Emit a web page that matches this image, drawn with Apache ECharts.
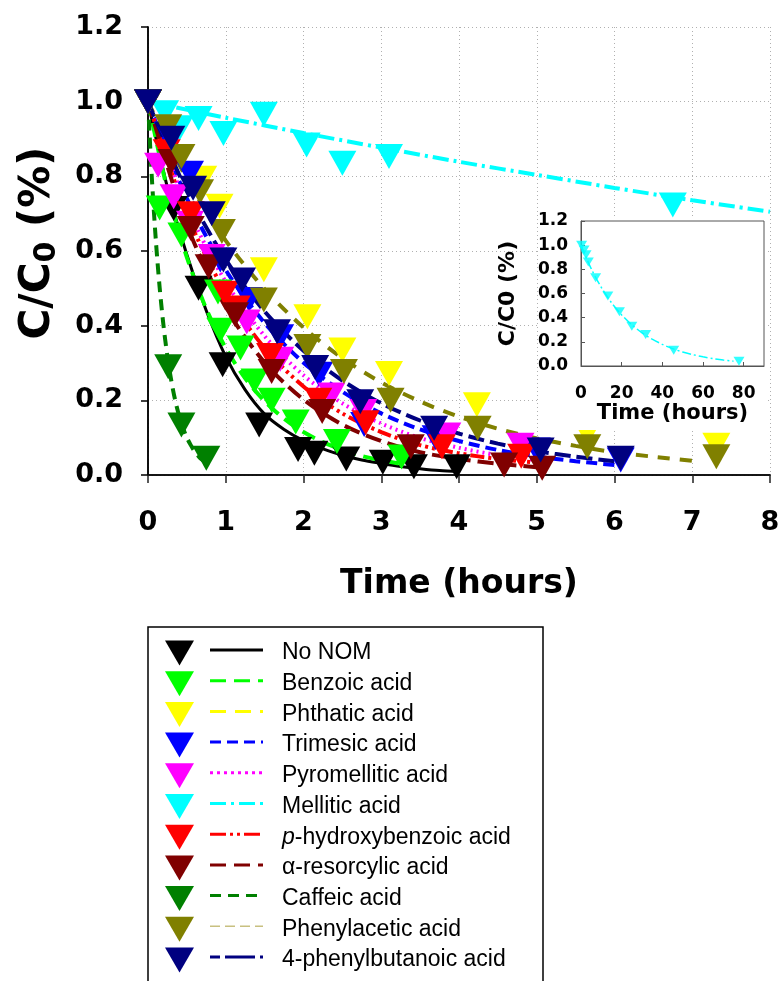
<!DOCTYPE html>
<html><head><meta charset="utf-8">
<script src="https://cdn.jsdelivr.net/npm/echarts@6/dist/echarts.min.js"></script>
<style>html,body{margin:0;padding:0;background:#fff}#c{width:783px;height:981px}</style>
</head><body><div id="c"></div>
<script>
// ---------- DATA ----------
const seriesNames = ['No NOM','Benzoic acid','Phthatic acid','Trimesic acid','Pyromellitic acid','Mellitic acid','p-hydroxybenzoic acid','α-resorcylic acid','Caffeic acid','Phenylacetic acid','4-phenylbutanoic acid'];
const xTicks = [0,1,2,3,4,5,6,7,8];
const yTicks = [0,0.2,0.4,0.6,0.8,1.0,1.2];

// measured points (time in hours, C/C0)
const noNomTime = [0,0.33,0.65,0.96,1.43,1.93,2.14,2.55,3.02,3.42,3.97];
const noNomConc = [1.0,0.714,0.50,0.295,0.134,0.068,0.058,0.043,0.034,0.022,0.022];
const benzoicTime = [0,0.15,0.43,0.9,0.93,1.19,1.37,1.59,1.9,2.43,3.26];
const benzoicConc = [1.0,0.715,0.643,0.49,0.388,0.34,0.252,0.2,0.142,0.09,0.048];
const phthaticTime = [0,0.71,0.92,1.49,2.05,2.5,3.1,4.23,5.65,7.31];
const phthaticConc = [1.0,0.795,0.72,0.55,0.424,0.335,0.272,0.188,0.112,0.08];
const trimesicTime = [0,0.3,0.54,0.93,1.3,1.7,2.2,2.78,3.7,5.0,6.08];
const trimesicConc = [1.0,0.9,0.808,0.576,0.47,0.37,0.27,0.135,0.1,0.067,0.04];
const pyromelliticTime = [0,0.13,0.33,0.54,0.82,1.27,1.7,2.36,2.77,3.85,4.79];
const pyromelliticConc = [1.0,0.83,0.745,0.674,0.585,0.41,0.31,0.214,0.17,0.107,0.08];
const melliticTime = [0,0.22,0.41,0.65,0.97,1.49,2.04,2.5,3.1,6.75];
const melliticConc = [1.0,0.97,0.93,0.955,0.915,0.966,0.884,0.835,0.853,0.723];
const hydroxyTime = [0,0.24,0.55,0.99,1.14,1.57,2.19,2.8,3.78,4.8];
const hydroxyConc = [1.0,0.866,0.70,0.487,0.447,0.32,0.2,0.14,0.076,0.05];
const resorcylicTime = [0,0.3,0.55,0.78,1.12,1.59,2.24,3.38,4.58,5.07];
const resorcylicConc = [1.0,0.84,0.66,0.558,0.429,0.277,0.17,0.076,0.027,0.018];
const caffeicTime = [0,0.26,0.43,0.75];
const caffeicConc = [1.0,0.29,0.134,0.045];
const phenylaceticTime = [0,0.26,0.43,0.67,0.95,1.49,2.05,2.52,3.12,4.24,5.65,7.31];
const phenylaceticConc = [1.0,0.933,0.853,0.759,0.652,0.469,0.344,0.277,0.2,0.125,0.076,0.049];
const phenylbutanoicTime = [0,0.3,0.58,0.82,0.97,1.21,1.66,2.15,2.73,3.68,5.05,6.08];
const phenylbutanoicConc = [1.0,0.902,0.768,0.70,0.576,0.522,0.384,0.288,0.196,0.125,0.067,0.045];

// fitted curves
const noNomFitTime = [0,0.25,0.5,0.75,1,1.25,1.5,1.75,2,2.25,2.5,2.75,3,3.25,3.5,3.75,4];
const noNomFitConc = [1,0.77,0.59,0.44,0.317,0.228,0.163,0.122,0.092,0.07,0.053,0.04,0.031,0.023,0.017,0.012,0.009];
const benzoicFitTime = [0,0.25,0.5,0.75,1,1.25,1.5,1.75,2,2.25,2.5,2.75,3,3.25];
const benzoicFitConc = [1,0.763,0.583,0.445,0.34,0.259,0.198,0.151,0.115,0.088,0.067,0.051,0.039,0.03];
const trimesicFitTime = [0,0.5,1,1.5,2,2.5,3,3.5,4,4.5,5,5.5,6];
const trimesicFitConc = [1,0.741,0.549,0.407,0.301,0.223,0.165,0.122,0.091,0.067,0.05,0.037,0.027];
const pyromelliticFitTime = [0,0.5,1,1.5,2,2.5,3,3.5,4,4.5,5];
const pyromelliticFitConc = [1,0.719,0.517,0.372,0.267,0.192,0.138,0.099,0.073,0.053,0.04];
const melliticFitTime = [0,1,2,3,4,5,6,7,8];
const melliticFitConc = [1,0.957,0.916,0.877,0.839,0.804,0.769,0.736,0.705];
const hydroxyFitTime = [0,0.5,1,1.5,2,2.5,3,3.5,4,4.5,5];
const hydroxyFitConc = [1,0.698,0.487,0.34,0.237,0.165,0.115,0.08,0.058,0.043,0.033];
const resorcylicFitTime = [0,0.5,1,1.5,2,2.5,3,3.5,4,4.5,5];
const resorcylicFitConc = [1,0.67,0.449,0.301,0.202,0.135,0.091,0.061,0.043,0.03,0.021];
const caffeicFitTime = [0,0.05,0.1,0.15,0.2,0.25,0.3,0.35,0.4,0.45,0.5,0.55,0.6,0.65,0.7,0.75];
const caffeicFitConc = [1,0.794,0.631,0.502,0.399,0.317,0.252,0.2,0.159,0.126,0.1,0.08,0.063,0.05,0.04,0.032];
const phenylaceticFitTime = [0,0.5,1,1.5,2,2.5,3,3.5,4,4.5,5,5.5,6,6.5,7];
const phenylaceticFitConc = [1,0.793,0.628,0.498,0.395,0.313,0.248,0.197,0.156,0.124,0.098,0.078,0.061,0.049,0.038];
const phenylbutanoicFitTime = [0,0.5,1,1.5,2,2.5,3,3.5,4,4.5,5,5.5,6];
const phenylbutanoicFitConc = [1,0.76,0.577,0.438,0.333,0.253,0.192,0.146,0.111,0.084,0.064,0.049,0.037];

// inset: Mellitic acid over long time
const insetTime = [0.3,1.5,2.5,3.6,7.2,13.2,18.9,25,31.8,45.6,77.7];
const insetConc = [1.0,0.96,0.92,0.86,0.73,0.58,0.45,0.33,0.26,0.13,0.04];
const insetFitTime = [0,5,10,15,20,25,30,35,40,45,50,55,60,65,70,75];
const insetFitConc = [1,0.806,0.65,0.524,0.423,0.341,0.275,0.222,0.179,0.144,0.116,0.094,0.076,0.061,0.049,0.04];

// ---------- STYLES ----------
const colors = ['#000000','#00ff00','#ffff00','#0000ff','#ff00ff','#00ffff','#ff0000','#800000','#008000','#808000','#000080'];
const dashes = ['solid',[14,8],[16,10],[11,6],[2,4],[16,5,3,5],[14,4,3,4,3,4],[16,7],[11,7],[12,10],[16,6]];
const legendDashes = ['solid',[16,8],[16,9],[11,6],[3,4],[16,5,3,5],[16,4,3,4,3,4],[16,8],[11,7],[10,5],[10,5,30,5]];
const legendLineColors = colors.slice(); legendLineColors[9] = '#c8c080';
const legendLineWidths = [3,3,3,3,3,3,3,3,3,1.5,3];

const pts = [[noNomTime,noNomConc],[benzoicTime,benzoicConc],[phthaticTime,phthaticConc],[trimesicTime,trimesicConc],[pyromelliticTime,pyromelliticConc],[melliticTime,melliticConc],[hydroxyTime,hydroxyConc],[resorcylicTime,resorcylicConc],[caffeicTime,caffeicConc],[phenylaceticTime,phenylaceticConc],[phenylbutanoicTime,phenylbutanoicConc]];
const fits = [[noNomFitTime,noNomFitConc],[benzoicFitTime,benzoicFitConc],null,[trimesicFitTime,trimesicFitConc],[pyromelliticFitTime,pyromelliticFitConc],[melliticFitTime,melliticFitConc],[hydroxyFitTime,hydroxyFitConc],[resorcylicFitTime,resorcylicFitConc],[caffeicFitTime,caffeicFitConc],[phenylaceticFitTime,phenylaceticFitConc],[phenylbutanoicFitTime,phenylbutanoicFitConc]];
const zip = (a,b) => a.map((v,i)=>[v,b[i]]);

const AX = 'DejaVu Sans';
const series = [];
pts.forEach((p,i)=>{
  series.push({type:'scatter', name:seriesNames[i], xAxisIndex:0, yAxisIndex:0, data:zip(p[0],p[1]),
    symbol:'triangle', symbolRotate:180, symbolSize:[28,25], itemStyle:{color:colors[i], opacity:1}, z:2, silent:true, clip:false});
});
fits.forEach((f,i)=>{
  if(!f) return;
  series.push({type:'line', name:seriesNames[i]+' fit', xAxisIndex:0, yAxisIndex:0, data:zip(f[0],f[1]),
    showSymbol:false, symbol:'none', smooth:0.3,
    lineStyle:{color:colors[i], width: i===0?3:4, type:dashes[i], cap:'butt'}, z:2, silent:true});
});
series.push({type:'scatter', xAxisIndex:2, yAxisIndex:2, data:zip(insetTime,insetConc), symbol:'triangle', symbolRotate:180,
  symbolSize:[11,9], itemStyle:{color:'#00ffff'}, z:6, silent:true});
series.push({type:'line', xAxisIndex:2, yAxisIndex:2, data:zip(insetFitTime,insetFitConc), showSymbol:false, symbol:'none', smooth:0.3,
  lineStyle:{color:'#00ffff', width:1.5, type:[9,3,2,3]}, z:6, silent:true});

// legend graphic
const lg = [];
const rowY0 = 653, rowStep = 30.7;
lg.push({type:'rect', shape:{x:148,y:627,width:395,height:420}, style:{fill:'none', stroke:'#000', lineWidth:1.5}, z:10});
seriesNames.forEach((n,i)=>{
  const y = rowY0 + i*rowStep;
  lg.push({type:'polygon', shape:{points:[[165,y-12.5],[194,y-12.5],[179.5,y+12.5]]}, style:{fill:colors[i]}, z:10});
  lg.push({type:'line', shape:{x1:210,y1:y-3,x2:263,y2:y-3}, style:{stroke:legendLineColors[i], lineWidth:legendLineWidths[i], lineDash: legendDashes[i]==='solid'?null:legendDashes[i]}, z:10});
  let txt = n, rich = {i:{fontStyle:'italic', fontSize:23, fontFamily:'Liberation Sans', fill:'#000'}};
  if (n.indexOf('p-')===0) txt = '{i|p}' + n.slice(1);
  lg.push({type:'text', x:282, y:y, style:{text:txt, rich:rich, font:'23px "Liberation Sans", Arial', fill:'#000', verticalAlign:'middle', align:'left'}, z:10});
});
// white backing behind the inset
lg.push({type:'rect', shape:{x:539,y:218,width:229,height:212}, style:{fill:'#fff'}, z:3});

const chart = echarts.init(document.getElementById('c'), null, {renderer:'canvas'});
const tickFont = {fontFamily:AX, fontWeight:'bold', fontSize:27, color:'#000'};
chart.setOption({
  animation:false,
  backgroundColor:'#fff',
  grid:[
    {left:148, top:27, width:622, height:448, show:false},
    {left:581, top:221, width:183, height:145, show:true, borderColor:'#555', borderWidth:1, backgroundColor:'#fff', z:4}
  ],
  xAxis:[
    {gridIndex:0, type:'value', min:xTicks[0], max:xTicks[xTicks.length-1], interval:1, position:'bottom', offset:3,
      axisLine:{lineStyle:{color:'#222', width:1.5}}, axisTick:{inside:false, length:8, lineStyle:{color:'#222', width:1.5}},
      axisLabel:Object.assign({margin:31}, tickFont),
      splitLine:{show:true, lineStyle:{type:[1,3], color:'#b0b0b0', width:1}},
      name:'Time (hours)', nameLocation:'middle', nameGap:90, nameTextStyle:{fontFamily:AX, fontWeight:'bold', fontSize:33, color:'#000'}},
    {gridIndex:0, type:'value', min:0, max:8, position:'top', axisLine:{lineStyle:{color:'#000', width:1.5}}, axisTick:{show:false}, axisLabel:{show:false}, splitLine:{show:false}},
    {gridIndex:1, type:'value', min:0, max:90, interval:20, position:'bottom', z:5,
      axisLine:{lineStyle:{color:'#555', width:1}}, axisTick:{inside:true, length:4, lineStyle:{color:'#555'}},
      axisLabel:{showMaxLabel:false, margin:19, fontFamily:AX, fontWeight:'bold', fontSize:17, color:'#000'},
      splitLine:{show:false},
      name:'Time (hours)', nameLocation:'middle', nameGap:35, nameTextStyle:{fontFamily:AX, fontWeight:'bold', fontSize:21, color:'#000'}}
  ],
  yAxis:[
    {gridIndex:0, type:'value', min:yTicks[0], max:yTicks[yTicks.length-1], interval:0.2,
      axisLine:{lineStyle:{color:'#000', width:1.5}}, axisTick:{inside:false, length:7, lineStyle:{color:'#000', width:1.5}},
      axisLabel:Object.assign({margin:25, formatter:v=>v.toFixed(1)}, tickFont),
      splitLine:{show:true, lineStyle:{type:[1,3], color:'#b0b0b0', width:1}},
      name:'{a|C/C}{s|0}{a| (%)}', nameLocation:'middle', nameRotate:90, nameGap:86,
      nameTextStyle:{padding:[0,0,0,16], rich:{a:{fontFamily:AX, fontWeight:'bold', fontSize:42, color:'#000'}, s:{fontFamily:AX, fontWeight:'bold', fontSize:30, color:'#000', padding:[18,0,0,0]}}}},
    {gridIndex:0, type:'value', min:0, max:1.2, position:'right', axisLine:{show:true, lineStyle:{color:'#000', width:1.5}}, axisTick:{show:false}, axisLabel:{show:false}, splitLine:{show:false}},
    {gridIndex:1, type:'value', min:0, max:1.2, interval:0.2, z:5,
      axisLine:{lineStyle:{color:'#555'}}, axisTick:{inside:true, length:4, lineStyle:{color:'#555'}},
      axisLabel:{margin:13, formatter:v=>v.toFixed(1), fontFamily:AX, fontWeight:'bold', fontSize:17, color:'#000'},
      splitLine:{show:false},
      name:'C/C0 (%)', nameLocation:'middle', nameRotate:90, nameGap:62, nameTextStyle:{fontFamily:AX, fontWeight:'bold', fontSize:22, color:'#000'}}
  ],
  series: series,
  graphic: lg
});
</script></body></html>
